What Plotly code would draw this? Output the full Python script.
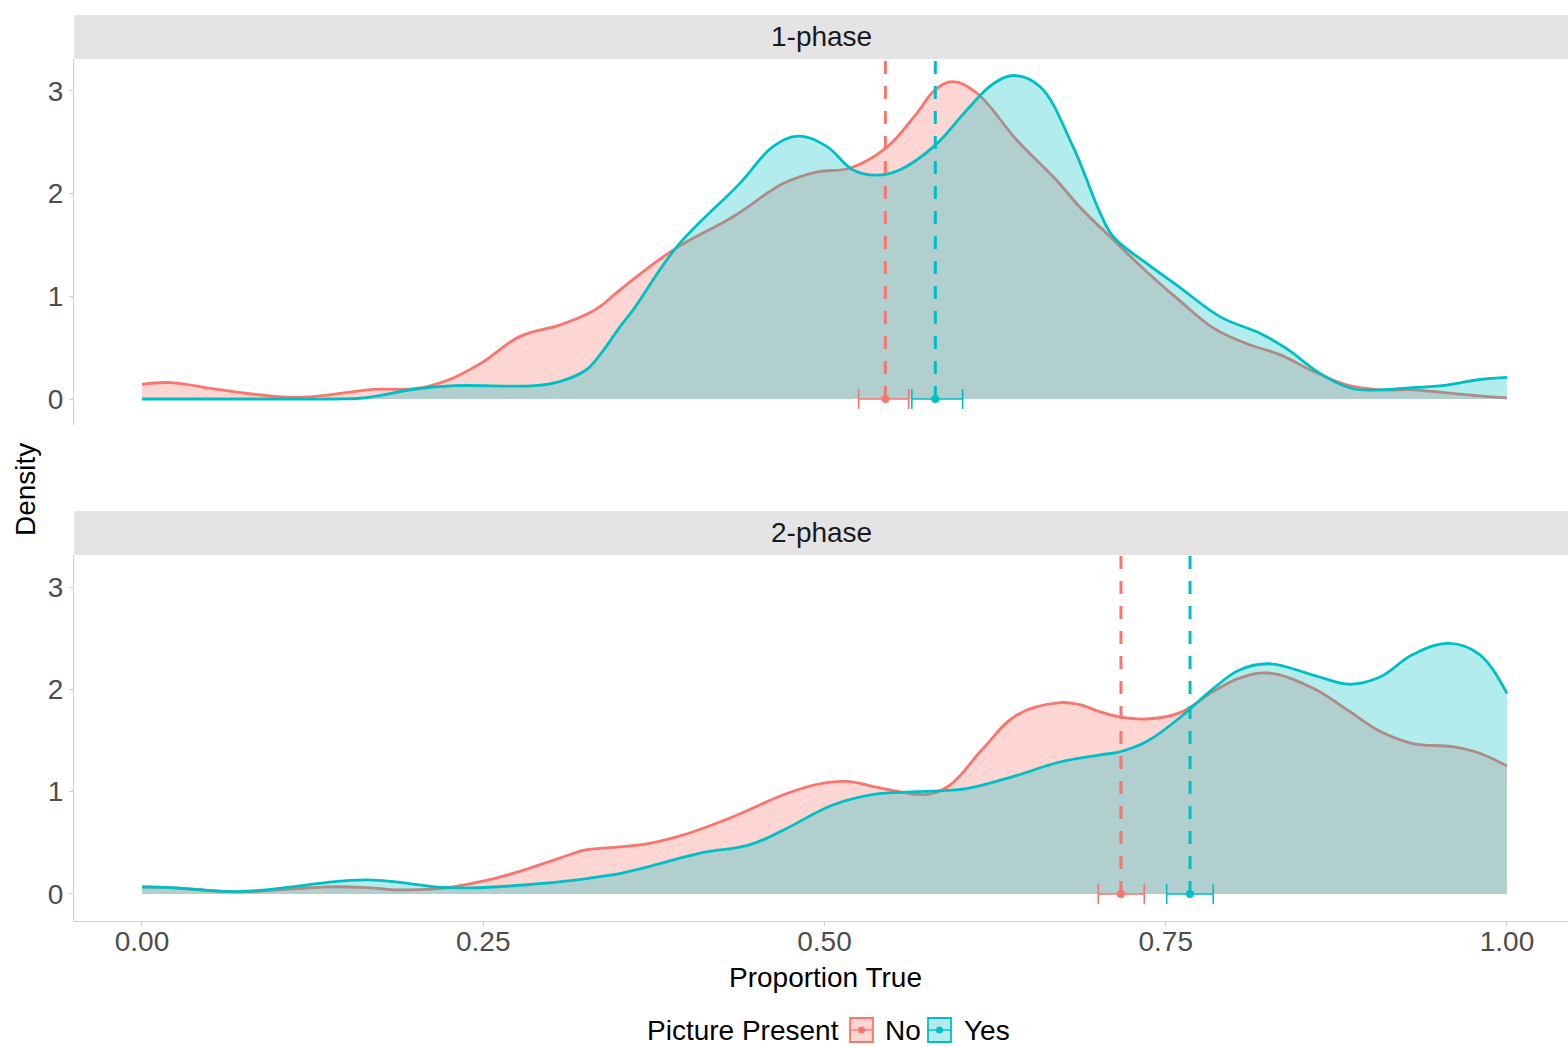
import plotly.graph_objects as go

W, H = 1568, 1047
FONT = "Liberation Sans, Arial, sans-serif"
RED = "#F8766D"
TEAL = "#00BFC4"
RED_FILL = "rgba(248,118,109,0.3)"
TEAL_FILL = "rgba(0,191,196,0.3)"
AXIS_GREY = "#CFCFCF"

# ---- density estimates of "Proportion True" by condition ----
# 1-phase, Picture Present = No
p1_no_x = [0.0, 0.021, 0.058, 0.10, 0.123, 0.17, 0.20, 0.2225, 0.2485, 0.277, 0.306, 0.325,
           0.3355, 0.350, 0.389, 0.433, 0.470, 0.494, 0.519, 0.5446, 0.5675, 0.581,
           0.594, 0.6115, 0.641, 0.670, 0.687, 0.7116, 0.736, 0.760, 0.785, 0.809, 0.834,
           0.858, 0.883, 0.907, 0.931, 0.956, 0.980, 1.0]
p1_no_y = [0.143, 0.16, 0.088, 0.023, 0.02, 0.094, 0.10, 0.175, 0.35, 0.61, 0.72, 0.82,
           0.90, 1.06, 1.45, 1.775, 2.10, 2.21, 2.25, 2.44, 2.78, 3.01,
           3.09, 2.98, 2.52, 2.13, 1.87, 1.55, 1.24, 0.96, 0.69, 0.54, 0.43,
           0.27, 0.136, 0.09, 0.09, 0.06, 0.03, 0.01]

# 1-phase, Picture Present = Yes
p1_yes_x = [0.0, 0.05, 0.10, 0.14, 0.162, 0.2015, 0.229, 0.288, 0.306, 0.325, 0.3355, 0.350,
            0.36, 0.3917, 0.438, 0.4625, 0.481, 0.5016, 0.521, 0.538, 0.555, 0.581, 0.604,
            0.6237, 0.6396, 0.658, 0.682, 0.702, 0.7116, 0.736, 0.760, 0.790, 0.819, 0.8386,
            0.863, 0.887, 0.907, 0.931, 0.956, 0.980, 1.0]
p1_yes_y = [0.0, 0.0, 0.0, 0.0, 0.01, 0.10, 0.13, 0.13, 0.17, 0.28, 0.43, 0.70,
            0.87, 1.48, 2.10, 2.46, 2.56, 2.46, 2.23, 2.18, 2.23, 2.47, 2.81,
            3.07, 3.15, 3.04, 2.46, 1.81, 1.58, 1.32, 1.09, 0.80, 0.64, 0.49,
            0.25, 0.10, 0.09, 0.11, 0.136, 0.19, 0.21]

# 2-phase, Picture Present = No
p2_no_x = [0.0, 0.018, 0.0707, 0.11, 0.136, 0.162, 0.1885, 0.2147, 0.228, 0.254, 0.280, 0.306,
           0.325, 0.350, 0.372, 0.3966, 0.433, 0.470, 0.494, 0.516, 0.543, 0.575,
           0.592, 0.616, 0.641, 0.6725, 0.687, 0.702, 0.7165, 0.736, 0.760, 0.785, 0.804,
           0.825, 0.858, 0.883, 0.907, 0.931, 0.960, 0.980, 1.0]
p2_no_y = [0.07, 0.065, 0.02, 0.05, 0.07, 0.065, 0.04, 0.05, 0.07, 0.137, 0.235, 0.35,
           0.43, 0.46, 0.495, 0.577, 0.755, 0.97, 1.07, 1.10, 1.03, 0.974,
           1.065, 1.42, 1.75, 1.87, 1.85, 1.78, 1.73, 1.71, 1.77, 1.98, 2.11,
           2.16, 2.01, 1.80, 1.59, 1.47, 1.44, 1.375, 1.25]

# 2-phase, Picture Present = Yes
p2_yes_x = [0.0, 0.018, 0.0707, 0.11, 0.136, 0.165, 0.1885, 0.2147, 0.2408, 0.280, 0.319,
            0.3355, 0.350, 0.372, 0.409, 0.445, 0.470, 0.506, 0.536, 0.567, 0.604, 0.641,
            0.6725, 0.702, 0.7165, 0.736, 0.760, 0.785, 0.804, 0.826, 0.858, 0.885, 0.907,
            0.931, 0.958, 0.980, 1.0]
p2_yes_y = [0.07, 0.065, 0.023, 0.07, 0.114, 0.137, 0.114, 0.07, 0.06, 0.088, 0.137,
            0.17, 0.20, 0.27, 0.40, 0.48, 0.625, 0.87, 0.974, 1.0, 1.03, 1.16,
            1.29, 1.36, 1.39, 1.49, 1.72, 2.01, 2.19, 2.25, 2.14, 2.05, 2.12,
            2.34, 2.45, 2.34, 1.96]

# ---- group means with interval bounds ----
mean_p1 = {"No": 0.5446, "Yes": 0.5812}
lo_p1 = {"No": 0.5250, "Yes": 0.5640}
hi_p1 = {"No": 0.5617, "Yes": 0.6012}
mean_p2 = {"No": 0.7172, "Yes": 0.7678}
lo_p2 = {"No": 0.7006, "Yes": 0.7507}
hi_p2 = {"No": 0.7343, "Yes": 0.7848}

x_ticks = [0.0, 0.25, 0.50, 0.75, 1.00]
x_tick_text = ["0.00", "0.25", "0.50", "0.75", "1.00"]
y_ticks = [0, 1, 2, 3]
facets = ["1-phase", "2-phase"]

Y_TOP = 3.312
fig = go.Figure()


def add_density(x, y, line_col, fill_col, xa, ya):
    fig.add_trace(go.Scatter(
        x=x, y=y, mode="lines", fill="tozeroy", fillcolor=fill_col,
        line=dict(color=line_col, width=2.8, shape="spline", smoothing=1.1),
        xaxis=xa, yaxis=ya, showlegend=False, hoverinfo="skip"))


def add_mean(means, los, his, key, col, xa, ya):
    m = means[key]
    fig.add_trace(go.Scatter(
        x=[m, m], y=[0, Y_TOP], mode="lines",
        line=dict(color=col, width=3, dash="13px,12px"),
        xaxis=xa, yaxis=ya, showlegend=False, hoverinfo="skip"))
    fig.add_trace(go.Scatter(
        x=[m], y=[0], mode="markers",
        marker=dict(color=col, size=8),
        error_x=dict(type="data", symmetric=False,
                     array=[his[key] - m], arrayminus=[m - los[key]],
                     color=col, thickness=1.6, width=10),
        xaxis=xa, yaxis=ya, showlegend=False, hoverinfo="skip", cliponaxis=False))


# top panel: 1-phase
add_density(p1_no_x, p1_no_y, RED, RED_FILL, "x", "y")
add_density(p1_yes_x, p1_yes_y, TEAL, TEAL_FILL, "x", "y")
add_mean(mean_p1, lo_p1, hi_p1, "No", RED, "x", "y")
add_mean(mean_p1, lo_p1, hi_p1, "Yes", TEAL, "x", "y")

# bottom panel: 2-phase
add_density(p2_no_x, p2_no_y, RED, RED_FILL, "x2", "y2")
add_density(p2_yes_x, p2_yes_y, TEAL, TEAL_FILL, "x2", "y2")
add_mean(mean_p2, lo_p2, hi_p2, "No", RED, "x2", "y2")
add_mean(mean_p2, lo_p2, hi_p2, "Yes", TEAL, "x2", "y2")


def px(xp):
    return xp / W


def py(yp):
    return 1 - yp / H


X_RANGE = [-0.0498, 1.0447]
xdom = [px(74), 1.0]

common_x = dict(range=X_RANGE, domain=xdom, showgrid=False, zeroline=False)
common_y = dict(showgrid=False, zeroline=False, showline=True, linecolor=AXIS_GREY,
                linewidth=1.2, ticks="outside", ticklen=4, tickcolor=AXIS_GREY,
                tickwidth=1.2, tickvals=y_ticks,
                tickfont=dict(family=FONT, size=28, color="#4D4D4D"))

shapes = []
annotations = []

# facet strips
for label, (s0, s1) in zip(facets, [(15, 59), (511, 555)]):
    shapes.append(dict(type="rect", xref="paper", yref="paper",
                       x0=px(74), x1=1.0, y0=py(s1), y1=py(s0),
                       fillcolor="#E4E4E4", line=dict(width=0), layer="below"))
    annotations.append(dict(text=label, xref="paper", yref="paper",
                            x=(px(74) + 1.0) / 2, y=py((s0 + s1) / 2),
                            xanchor="center", yanchor="middle", showarrow=False,
                            font=dict(family=FONT, size=28, color="#1A1A1A")))

# axis titles
annotations.append(dict(text="Density", xref="paper", yref="paper",
                        x=px(25), y=py(490), textangle=-90, showarrow=False,
                        xanchor="center", yanchor="middle",
                        font=dict(family=FONT, size=28, color="#000000")))
annotations.append(dict(text="Proportion True", xref="paper", yref="paper",
                        x=px(825), y=py(977), showarrow=False,
                        xanchor="center", yanchor="middle",
                        font=dict(family=FONT, size=28, color="#000000")))

# legend
LEG_Y = 1030
annotations.append(dict(text="Picture Present", xref="paper", yref="paper",
                        x=px(841), y=py(LEG_Y), showarrow=False,
                        xanchor="right", yanchor="middle",
                        font=dict(family=FONT, size=28, color="#000000")))
for name, col, fill, bx0, tx in [("No", RED, RED_FILL, 850, 883),
                                 ("Yes", TEAL, TEAL_FILL, 928, 962)]:
    bx1 = bx0 + 23
    shapes.append(dict(type="rect", xref="paper", yref="paper",
                       x0=px(bx0), x1=px(bx1), y0=py(1042), y1=py(1018),
                       fillcolor=fill, line=dict(color=col, width=1.8)))
    shapes.append(dict(type="line", xref="paper", yref="paper",
                       x0=px(bx0), x1=px(bx1), y0=py(LEG_Y), y1=py(LEG_Y),
                       line=dict(color=col, width=1.4)))
    cx = (bx0 + bx1) / 2
    shapes.append(dict(type="circle", xref="paper", yref="paper",
                       x0=px(cx - 3.5), x1=px(cx + 3.5),
                       y0=py(LEG_Y + 3.5), y1=py(LEG_Y - 3.5),
                       fillcolor=col, line=dict(width=0)))
    annotations.append(dict(text=name, xref="paper", yref="paper",
                            x=px(tx), y=py(LEG_Y), showarrow=False,
                            xanchor="left", yanchor="middle",
                            font=dict(family=FONT, size=28, color="#000000")))

fig.update_layout(
    width=W, height=H,
    margin=dict(l=0, r=0, t=0, b=0),
    paper_bgcolor="white", plot_bgcolor="white",
    showlegend=False,
    xaxis=dict(**common_x, anchor="y", showline=False, showticklabels=False, ticks=""),
    yaxis=dict(**common_y, domain=[py(425), py(59)], range=[-0.253, 3.311], anchor="x"),
    xaxis2=dict(**common_x, anchor="y2", showline=True, linecolor=AXIS_GREY,
                linewidth=1.2, ticks="outside", ticklen=4, tickcolor=AXIS_GREY,
                tickwidth=1.2, tickvals=x_ticks, ticktext=x_tick_text,
                ticklabelstandoff=-9,
                tickfont=dict(family=FONT, size=28, color="#4D4D4D")),
    yaxis2=dict(**common_y, domain=[py(921), py(555)], range=[-0.264, 3.313], anchor="x2"),
    shapes=shapes,
    annotations=annotations,
)

fig.write_html("out.html")
